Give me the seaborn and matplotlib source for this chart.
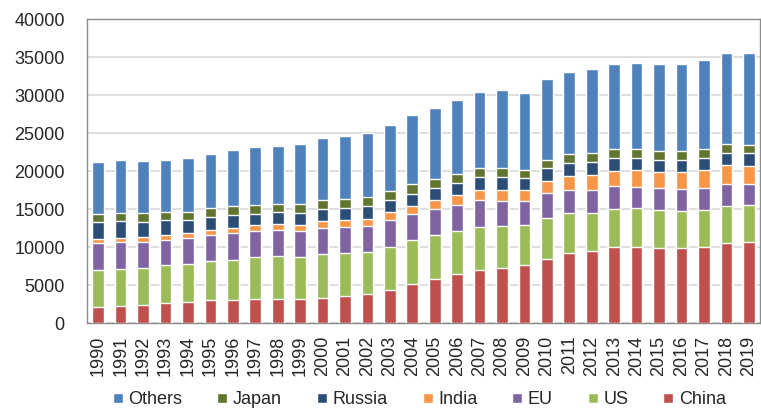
import numpy as np
import pandas as pd
import matplotlib
matplotlib.use('Agg')
import matplotlib.pyplot as plt
from matplotlib.patches import Patch
import seaborn as sns

years = list(range(1990, 2020))

china = [2100, 2280, 2370, 2590, 2720, 3030, 3030, 3110, 3200, 3110,
         3330, 3510, 3770, 4340, 5090, 5790, 6400, 6970, 7190, 7680,
         8420, 9210, 9470, 9960, 9960, 9830, 9870, 10040, 10480, 10660]
us = [4870, 4820, 4870, 5000, 5040, 5130, 5260, 5530, 5610, 5570,
      5750, 5700, 5610, 5660, 5790, 5750, 5660, 5700, 5530, 5180,
      5400, 5220, 5000, 5090, 5130, 5000, 4870, 4870, 4960, 4820]
eu = [3550, 3510, 3420, 3330, 3380, 3380, 3510, 3470, 3420, 3420,
      3420, 3420, 3380, 3550, 3470, 3470, 3510, 3510, 3380, 3160,
      3250, 3070, 3030, 2980, 2810, 2890, 2900, 2900, 2890, 2760]
india = [530, 570, 610, 660, 660, 750, 750, 750, 790, 830,
         880, 920, 970, 1010, 1050, 1140, 1230, 1270, 1400, 1490,
         1620, 1800, 1930, 1970, 2190, 2150, 2190, 2330, 2410, 2410]
russia = [2240, 2190, 2060, 1930, 1760, 1670, 1620, 1490, 1540, 1580,
          1580, 1620, 1620, 1620, 1620, 1620, 1620, 1710, 1670, 1580,
          1670, 1710, 1710, 1670, 1620, 1620, 1620, 1620, 1670, 1670]
japan = [1050, 1100, 1140, 1100, 1100, 1190, 1230, 1180, 1100, 1180,
         1180, 1140, 1180, 1180, 1230, 1180, 1180, 1230, 1230, 1100,
         1140, 1180, 1190, 1230, 1180, 1140, 1140, 1140, 1100, 1140]
others = [6890, 6930, 6890, 6890, 7020, 7150, 7370, 7630, 7680, 7810,
          8160, 8290, 8420, 8730, 9080, 9390, 9690, 10000, 10220, 10040,
          10570, 10880, 11140, 11230, 11320, 11450, 11540, 11750, 11970, 12060]

series = ['China', 'US', 'EU', 'India', 'Russia', 'Japan', 'Others']
colors = {'China': '#C0504D', 'US': '#9BBB59', 'EU': '#8064A2', 'India': '#F79646',
          'Russia': '#2C4D75', 'Japan': '#5F7530', 'Others': '#4F81BD'}

df = pd.DataFrame({'Year': [str(y) for y in years], 'China': china, 'US': us, 'EU': eu,
                   'India': india, 'Russia': russia, 'Japan': japan, 'Others': others})

# cumulative totals for stacking
cum = df[series].cumsum(axis=1)

sns.set_style('white')
plt.rcParams['font.family'] = ['Liberation Sans', 'DejaVu Sans']

fig = plt.figure(figsize=(7.61, 4.11), dpi=100)
ax = fig.add_axes([87 / 761, 1 - 323 / 411, 673 / 761, 304 / 411])

# draw tallest layer first so the lower ones sit on top
for s in reversed(series):
    sns.barplot(x=df['Year'], y=cum[s], color=colors[s], width=0.52,
                saturation=1, ax=ax, zorder=3)

ax.set_ylim(0, 40000)
ax.set_xlim(-0.5, len(years) - 0.5)
ax.set_yticks(np.arange(0, 40001, 5000))
ax.yaxis.grid(True, color='#D9D9D9', linewidth=1.2, zorder=0)
ax.set_axisbelow(True)
ax.set_xlabel('')
ax.set_ylabel('')
ax.tick_params(axis='y', length=0, pad=16, labelsize=13)
ax.tick_params(axis='x', length=0, pad=9, labelsize=13, rotation=90)
for sp in ax.spines.values():
    sp.set_color('#8C8C8C')
    sp.set_linewidth(1)

handles = [Patch(facecolor=colors[s], label=s) for s in reversed(series)]
fig.legend(handles=handles, loc='center', bbox_to_anchor=(0.551, 0.027), ncol=7,
           frameon=False, fontsize=13, handlelength=0.55, handleheight=0.55,
           handletextpad=0.3, columnspacing=1.95)

fig.savefig('out.png', dpi=100)
